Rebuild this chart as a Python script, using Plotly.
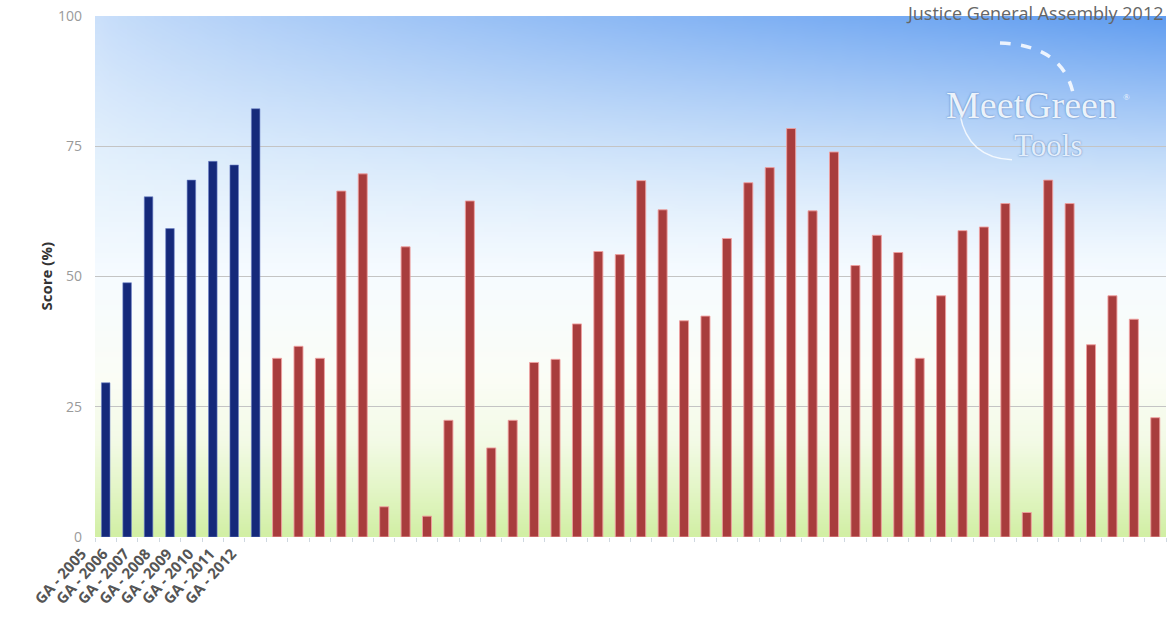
import plotly.graph_objects as go
import zlib, struct, base64

# ---------------- data ----------------
ga_labels = ["GA - 2005", "GA - 2006", "GA - 2007", "GA - 2008",
             "GA - 2009", "GA - 2010", "GA - 2011", "GA - 2012"]
ga_scores = [29.6, 48.8, 65.3, 59.2, 68.5, 72.1, 71.4, 82.2]

event_ids = ["E%02d" % i for i in range(1, 43)]
event_scores = [34.3, 36.6, 34.3, 66.4, 69.7, 5.8, 55.7, 4.0, 22.4, 64.5,
                17.1, 22.4, 33.5, 34.1, 40.9, 54.8, 54.2, 68.4, 62.8, 41.5,
                42.4, 57.3, 68.0, 70.9, 78.4, 62.6, 73.9, 52.1, 57.9, 54.6,
                34.3, 46.3, 58.8, 59.5, 64.0, 4.7, 68.5, 64.0, 36.9, 46.3,
                41.8, 22.9]

y_ticks = [0, 25, 50, 75, 100]
title_text = "Justice General Assembly 2012"

categories = ga_labels + event_ids
tick_text = ga_labels + [""] * len(event_ids)

# ---------------- background gradient image ----------------
def lerp(a, b, t):
    return tuple(a[k] + (b[k] - a[k]) * t for k in range(3))

stops = [(0.0, (210, 239, 165)), (0.08, (226, 245, 196)), (0.18, (243, 250, 230)),
         (0.3, (251, 253, 246)), (0.5, (246, 251, 255)), (0.72, (228, 241, 252)),
         (1.0, (203, 224, 250))]
deep_blue = (98, 158, 240)

def bg_color(u, v):
    for (v0, c0), (v1, c1) in zip(stops[:-1], stops[1:]):
        if v0 <= v <= v1:
            base = lerp(c0, c1, (v - v0) / (v1 - v0))
            break
    t = 0.0
    if v > 0.5:
        t = (u ** 0.75) * ((v - 0.5) / 0.5) ** 1.8
    c = lerp(base, deep_blue, min(t, 1.0))
    return tuple(int(round(max(0, min(255, x)))) for x in c)

def make_png(w, h):
    raw = bytearray()
    for j in range(h):
        v = 1 - j / (h - 1)
        raw.append(0)
        for i in range(w):
            u = i / (w - 1)
            raw.extend(bytes(bg_color(u, v)))
    def chunk(tag, data):
        c = struct.pack(">I", len(data)) + tag + data
        return c + struct.pack(">I", zlib.crc32(tag + data) & 0xffffffff)
    png = (b"\x89PNG\r\n\x1a\n"
           + chunk(b"IHDR", struct.pack(">IIBBBBB", w, h, 8, 2, 0, 0, 0))
           + chunk(b"IDAT", zlib.compress(bytes(raw)))
           + chunk(b"IEND", b""))
    return "data:image/png;base64," + base64.b64encode(png).decode()

bg_src = make_png(120, 100)

# ---------------- figure ----------------
fig = go.Figure()
fig.add_trace(go.Bar(
    x=ga_labels, y=ga_scores, width=0.4,
    marker=dict(color="#15297a", line=dict(color="rgba(110,130,200,0.6)", width=1)),
    showlegend=False, hoverinfo="x+y"))
fig.add_trace(go.Bar(
    x=event_ids, y=event_scores, width=0.42,
    marker=dict(color="#a83d3d", line=dict(color="rgba(240,160,160,0.9)", width=1)),
    showlegend=False, hoverinfo="y"))

PX0, PW, PY0, PH = 95, 1071, 537.5, 521.5

def px(x):
    return (x - PX0) / PW

def py(y):
    return (PY0 - y) / PH

logo_shadow = "0px 0px 2px rgba(70,110,170,0.9)"

fig.update_layout(
    width=1170, height=619,
    margin=dict(l=95, r=4, t=16, b=82),
    paper_bgcolor="white", plot_bgcolor="white",
    barmode="overlay",
    font=dict(family="Open Sans", color="#555"),
    images=[dict(source=bg_src, xref="paper", yref="paper", x=0, y=1,
                 sizex=1, sizey=1, sizing="stretch", layer="below",
                 xanchor="left", yanchor="top")],
    xaxis=dict(type="category", categoryorder="array", categoryarray=categories,
               tickmode="array", tickvals=categories, ticktext=tick_text,
               tickangle=-48,
               tickfont=dict(size=15, color="#555555", family="Open Sans", weight="bold"),
               ticks="outside", ticklen=4, tickcolor="#cfd8e0", tickson="boundaries",
               ticklabelshift=-24, ticklabelstandoff=4,
               showgrid=False, showline=False, zeroline=False,
               range=[-0.5, len(categories) - 0.5], fixedrange=True),
    yaxis=dict(range=[0, 100], tickvals=y_ticks, showgrid=True, gridcolor="#c4c4c4",
               gridwidth=1, zeroline=False, showline=False,
               tickfont=dict(size=14, color="#9a9a9a", family="Open Sans"),
               ticklabelstandoff=12, fixedrange=True),
    annotations=[
        dict(text=title_text, xref="paper", yref="paper", x=1, y=1,
             xanchor="right", yanchor="bottom", xshift=-1, yshift=-11, showarrow=False,
             font=dict(size=18, color="#666", family="Open Sans")),
        dict(text="<b>Score (%)</b>", xref="paper", yref="paper",
             x=px(45), y=0.5, textangle=-90, showarrow=False,
             xanchor="center", yanchor="middle",
             font=dict(size=15, color="#333", family="Open Sans")),
        dict(text="MeetGreen", xref="paper", yref="paper",
             x=px(1031), y=py(105), showarrow=False,
             xanchor="center", yanchor="middle",
             font=dict(size=38, color="rgba(245,250,255,0.95)", family="Liberation Serif",
                       shadow=logo_shadow)),
        dict(text="®", xref="paper", yref="paper",
             x=px(1132), y=py(90), showarrow=False,
             font=dict(size=9, color="rgba(255,255,255,0.9)", family="Liberation Serif")),
        dict(text="Tools", xref="paper", yref="paper",
             x=px(1048), y=py(146), showarrow=False,
             xanchor="center", yanchor="middle",
             font=dict(size=31, color="rgba(235,244,255,0.95)", family="Liberation Serif",
                       shadow=logo_shadow)),
    ],
    shapes=[
        dict(type="path", xref="paper", yref="paper",
             path="M %.4f %.4f Q %.4f %.4f %.4f %.4f" % (
                 px(1000), py(43), px(1062), py(45), px(1073), py(93)),
             line=dict(color="rgba(255,255,255,0.85)", width=3.5, dash="dash")),
        dict(type="path", xref="paper", yref="paper",
             path="M %.4f %.4f Q %.4f %.4f %.4f %.4f" % (
                 px(960), py(115), px(968), py(158), px(1012), py(160)),
             line=dict(color="rgba(255,255,255,0.8)", width=1.5)),
    ],
)

fig.write_html("out.html")
